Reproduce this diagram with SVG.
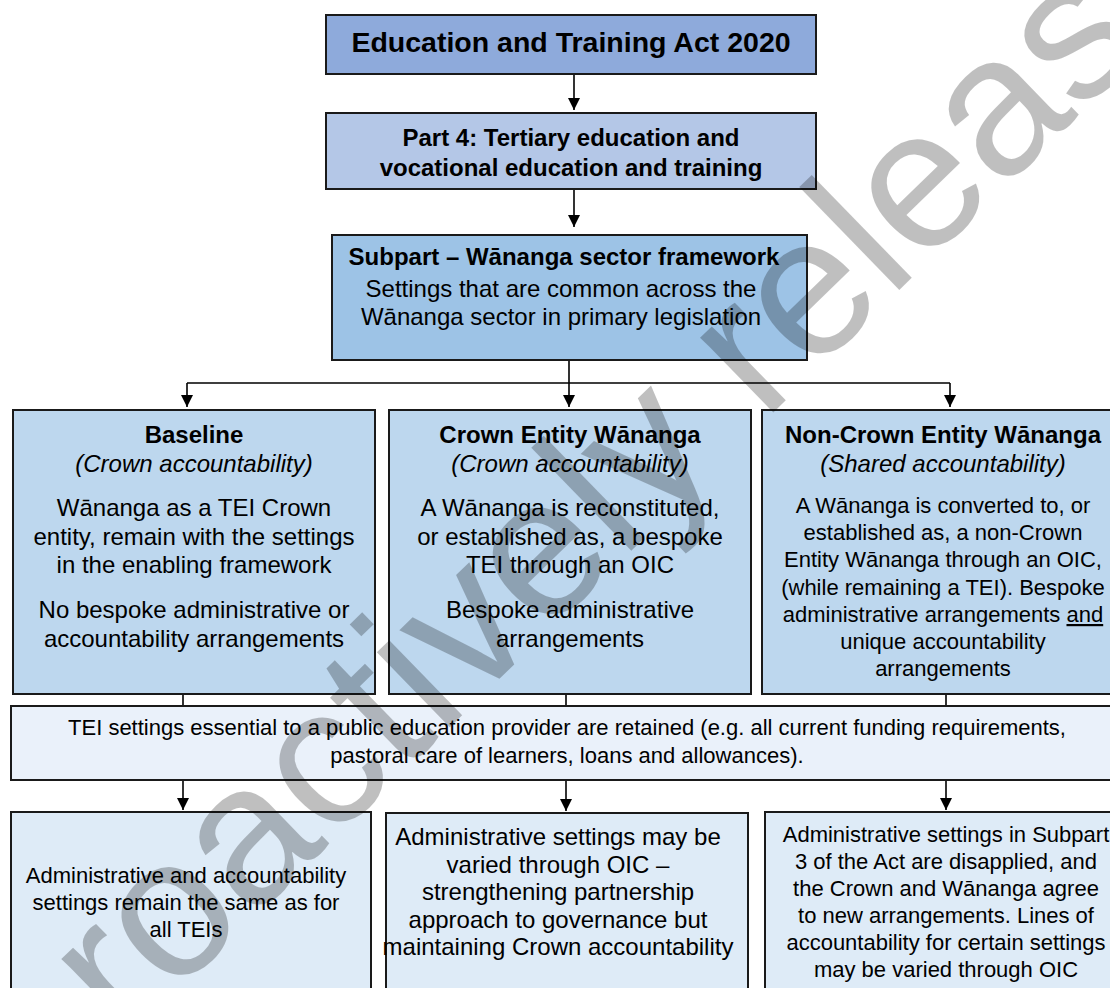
<svg xmlns="http://www.w3.org/2000/svg" width="1110" height="988" viewBox="0 0 1110 988">
  <style>
    .box { stroke: #1a1a1a; stroke-width: 2; }
    .t { font-family: "Liberation Sans", Arial, Helvetica, sans-serif; text-anchor: middle; fill: #000; }
    .b { font-weight: bold; }
    .i { font-style: italic; }
    .s28 { font-size: 28.5px; }
    .s24 { font-size: 24px; }
    .s22 { font-size: 22px; }
    .conn { stroke: #000; stroke-width: 1.6; fill: none; }
    .arrow { marker-end: url(#head); }
    .wm { font-family: "Liberation Sans", Arial, Helvetica, sans-serif; font-size: 198px; fill: #000; fill-opacity: 0.25; }
  </style>
  <defs>
    <marker id="head" markerUnits="userSpaceOnUse" markerWidth="12" markerHeight="12" viewBox="0 0 12 12" refX="12" refY="6" orient="auto">
      <path d="M0,0 L12,6 L0,12 Z" fill="#000"/>
    </marker>
  </defs>

  <rect width="1110" height="988" fill="#fff"/>

  <!-- connectors -->
  <g id="connectors">
    <path class="conn arrow" d="M574,74 V110"/>
    <path class="conn arrow" d="M574,189 V227"/>
    <path class="conn" d="M569,360 V383 M187,383 H950"/>
    <path class="conn arrow" d="M187,383 V407"/>
    <path class="conn arrow" d="M569,383 V407"/>
    <path class="conn arrow" d="M950,383 V407"/>
    <path class="conn" d="M183,694 V706 M566,694 V706 M946,694 V706"/>
    <path class="conn arrow" d="M183,780 V810"/>
    <path class="conn arrow" d="M566,780 V811"/>
    <path class="conn arrow" d="M946,780 V810"/>
  </g>

  <!-- top of the hierarchy -->
  <g id="act">
    <rect class="box" x="326" y="15" width="490" height="59" fill="#8EAADB"/>
    <text class="t b s28" x="571" y="52">Education and Training Act 2020</text>
  </g>

  <g id="part4">
    <rect class="box" x="326" y="113" width="490" height="76" fill="#B4C7E7"/>
    <text class="t b s24" x="571" y="146">Part 4: Tertiary education and</text>
    <text class="t b s24" x="571" y="176">vocational education and training</text>
  </g>

  <g id="subpart">
    <rect class="box" x="332" y="235" width="475" height="125" fill="#9DC3E6"/>
    <text class="t b s24" x="564" y="265">Subpart – Wānanga sector framework</text>
    <text class="t s24" x="561" y="297">Settings that are common across the</text>
    <text class="t s24" x="561" y="325">Wānanga sector in primary legislation</text>
  </g>

  <!-- three options -->
  <g id="baseline">
    <rect class="box" x="13" y="410" width="362" height="284" fill="#BDD7EE"/>
    <text class="t b s24" x="194" y="443">Baseline</text>
    <text class="t i s24" x="194" y="472">(Crown accountability)</text>
    <text class="t s24" x="194" y="516">Wānanga as a TEI Crown</text>
    <text class="t s24" x="194" y="545">entity, remain with the settings</text>
    <text class="t s24" x="194" y="573">in the enabling framework</text>
    <text class="t s24" x="194" y="618">No bespoke administrative or</text>
    <text class="t s24" x="194" y="647">accountability arrangements</text>
  </g>

  <g id="crown-entity">
    <rect class="box" x="389" y="410" width="362" height="284" fill="#BDD7EE"/>
    <text class="t b s24" x="570" y="443">Crown Entity Wānanga</text>
    <text class="t i s24" x="570" y="472">(Crown accountability)</text>
    <text class="t s24" x="570" y="516">A Wānanga is reconstituted,</text>
    <text class="t s24" x="570" y="545">or established as, a bespoke</text>
    <text class="t s24" x="570" y="573">TEI through an OIC</text>
    <text class="t s24" x="570" y="618">Bespoke administrative</text>
    <text class="t s24" x="570" y="647">arrangements</text>
  </g>

  <g id="non-crown-entity">
    <rect class="box" x="762" y="410" width="360" height="284" fill="#BDD7EE"/>
    <text class="t b s24" x="943" y="443">Non-Crown Entity Wānanga</text>
    <text class="t i s24" x="943" y="472">(Shared accountability)</text>
    <text class="t s22" x="943" y="513">A Wānanga is converted to, or</text>
    <text class="t s22" x="943" y="540">established as, a non-Crown</text>
    <text class="t s22" x="943" y="567">Entity Wānanga through an OIC,</text>
    <text class="t s22" x="943" y="595">(while remaining a TEI). Bespoke</text>
    <text class="t s22" x="943" y="622">administrative arrangements <tspan text-decoration="underline">and</tspan></text>
    <text class="t s22" x="943" y="649">unique accountability</text>
    <text class="t s22" x="943" y="676">arrangements</text>
  </g>

  <!-- shared settings bar -->
  <g id="tei-settings">
    <rect class="box" x="11" y="706" width="1112" height="74" fill="#EAF1FA"/>
    <text class="t s22" x="567" y="735">TEI settings essential to a public education provider are retained (e.g. all current funding requirements,</text>
    <text class="t s22" x="567" y="763">pastoral care of learners, loans and allowances).</text>
  </g>

  <!-- outcomes -->
  <g id="outcome-baseline">
    <rect class="box" x="11" y="812" width="360" height="190" fill="#DEEBF7"/>
    <text class="t s22" x="186" y="883">Administrative and accountability</text>
    <text class="t s22" x="186" y="910">settings remain the same as for</text>
    <text class="t s22" x="186" y="937">all TEIs</text>
  </g>

  <g id="outcome-crown-entity">
    <rect class="box" x="386" y="813" width="362" height="190" fill="#DEEBF7"/>
    <text class="t s24" x="558" y="845">Administrative settings may be</text>
    <text class="t s24" x="558" y="872.5">varied through OIC –</text>
    <text class="t s24" x="558" y="900">strengthening partnership</text>
    <text class="t s24" x="558" y="927.5">approach to governance but</text>
    <text class="t s24" x="558" y="955">maintaining Crown accountability</text>
  </g>

  <g id="outcome-non-crown-entity">
    <rect class="box" x="765" y="812" width="360" height="190" fill="#DEEBF7"/>
    <text class="t s22" x="946" y="842">Administrative settings in Subpart</text>
    <text class="t s22" x="946" y="869">3 of the Act are disapplied, and</text>
    <text class="t s22" x="946" y="896">the Crown and Wānanga agree</text>
    <text class="t s22" x="946" y="923">to new arrangements. Lines of</text>
    <text class="t s22" x="946" y="950">accountability for certain settings</text>
    <text class="t s22" x="946" y="977">may be varied through OIC</text>
  </g>

  <!-- release stamp across the page -->
  <text class="wm" transform="translate(45.7,1120.1) rotate(-44.2)">proactively released</text>
</svg>
